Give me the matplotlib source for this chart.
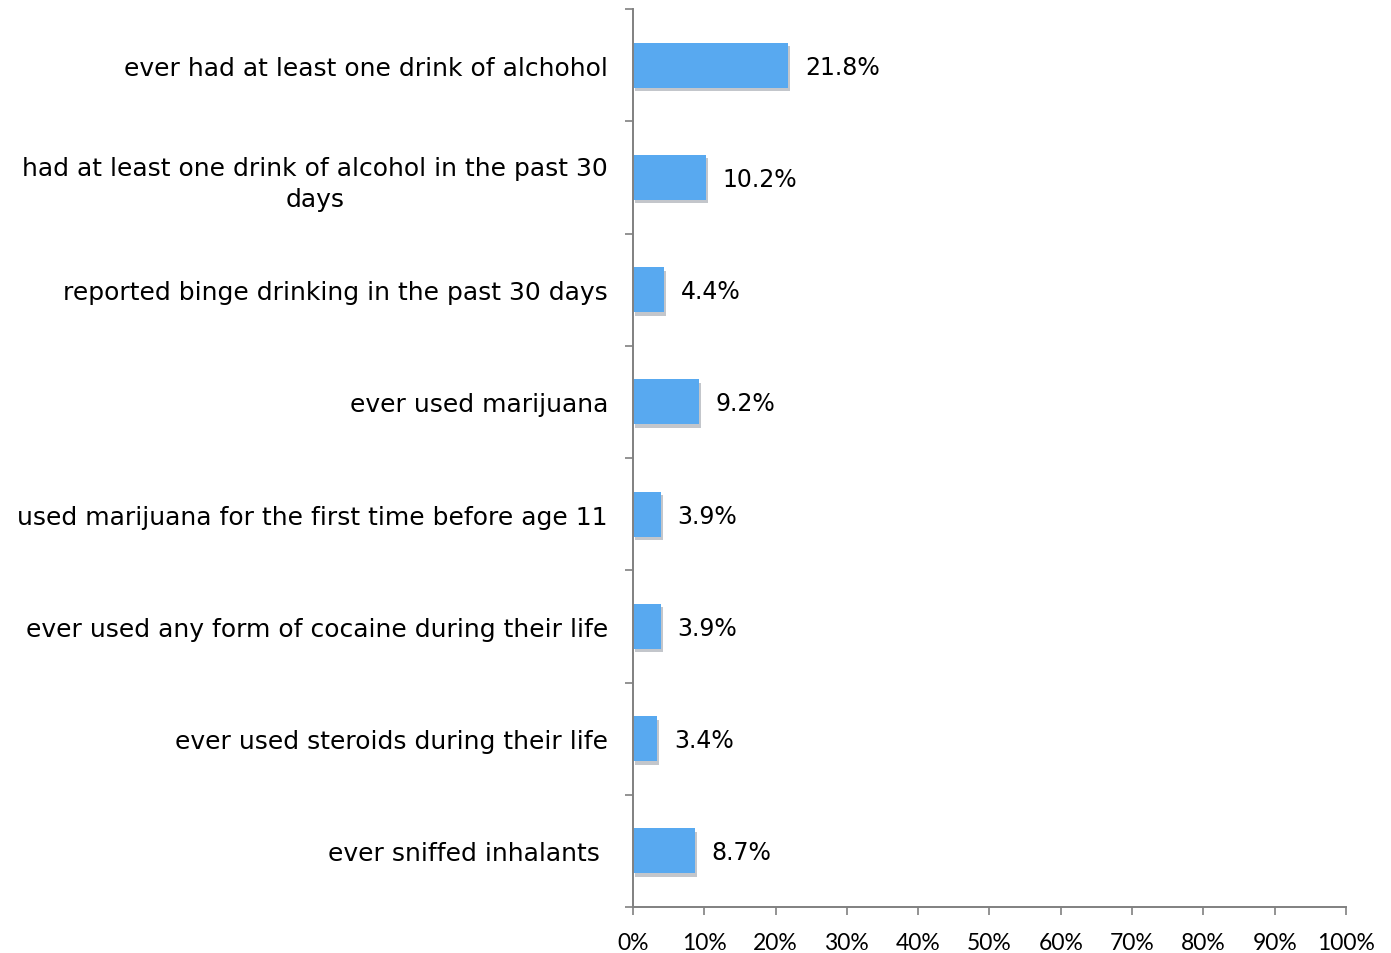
import matplotlib.pyplot as plt
import numpy as np
from matplotlib import patheffects
from matplotlib.ticker import FixedLocator, PercentFormatter

CATEGORIES = [
    "ever had at least one drink of alchohol",
    "had at least one drink of alcohol in the past 30\ndays",
    "reported binge drinking in the past 30 days",
    "ever used marijuana",
    "used marijuana for the first time before age 11",
    "ever used any form of cocaine during their life",
    "ever used steroids during their life",
    "ever sniffed inhalants ",
]
PERCENTS = [21.8, 10.2, 4.4, 9.2, 3.9, 3.9, 3.4, 8.7]
VALUE_LABELS = ["21.8%", "10.2%", "4.4%", "9.2%", "3.9%", "3.9%", "3.4%", "8.7%"]
X_TICKS = [0, 10, 20, 30, 40, 50, 60, 70, 80, 90, 100]

AXIS_GRAY = "#808080"
BAR_BLUE = "#58A9F0"


def main() -> None:
    fig = plt.figure(figsize=(13.91, 9.54), dpi=100)
    ax = fig.add_axes([0.455, 0.0482, 0.5127, 0.9413])

    y = np.arange(len(CATEGORIES))
    bars = ax.barh(y, PERCENTS, height=0.4, color=BAR_BLUE)
    for bar in bars:
        bar.set_path_effects(
            [
                patheffects.SimplePatchShadow(
                    offset=(1.5, -2.5), shadow_rgbFace="#3a4555", alpha=0.3
                ),
                patheffects.Normal(),
            ]
        )

    for bar, text in zip(bars, VALUE_LABELS):
        ax.annotate(
            text,
            (bar.get_width(), bar.get_y() + bar.get_height() / 2),
            xytext=(12, -1),
            textcoords="offset points",
            ha="left",
            va="center",
            fontsize=17,
            family="DejaVu Sans",
            color="black",
        )

    ax.set_xlim(0, 100)
    ax.set_ylim(len(CATEGORIES) - 0.5, -0.5)
    ax.xaxis.set_major_locator(FixedLocator(X_TICKS))
    ax.xaxis.set_major_formatter(PercentFormatter(decimals=0))
    ax.set_yticks(y)
    ax.set_yticklabels(CATEGORIES, fontsize=18, family="DejaVu Sans", ha="right",
                       multialignment="center", linespacing=1.4)
    ax.yaxis.set_minor_locator(FixedLocator(np.arange(-0.5, len(CATEGORIES), 1)))

    for label in ax.get_xticklabels():
        label.set_fontsize(16.5)
        label.set_family("Lato")

    ax.tick_params(axis="y", which="major", length=0, pad=18)
    ax.tick_params(axis="y", which="minor", length=6, width=1.2, color=AXIS_GRAY,
                   direction="out")
    ax.tick_params(axis="x", which="major", length=6, width=1.2, color=AXIS_GRAY,
                   direction="out", pad=12)

    for side in ("top", "right"):
        ax.spines[side].set_visible(False)
    for side in ("left", "bottom"):
        ax.spines[side].set_color(AXIS_GRAY)
        ax.spines[side].set_linewidth(1.4)

    fig.savefig("out.png", dpi=100)


main() if __name__ == "__main__" else None
